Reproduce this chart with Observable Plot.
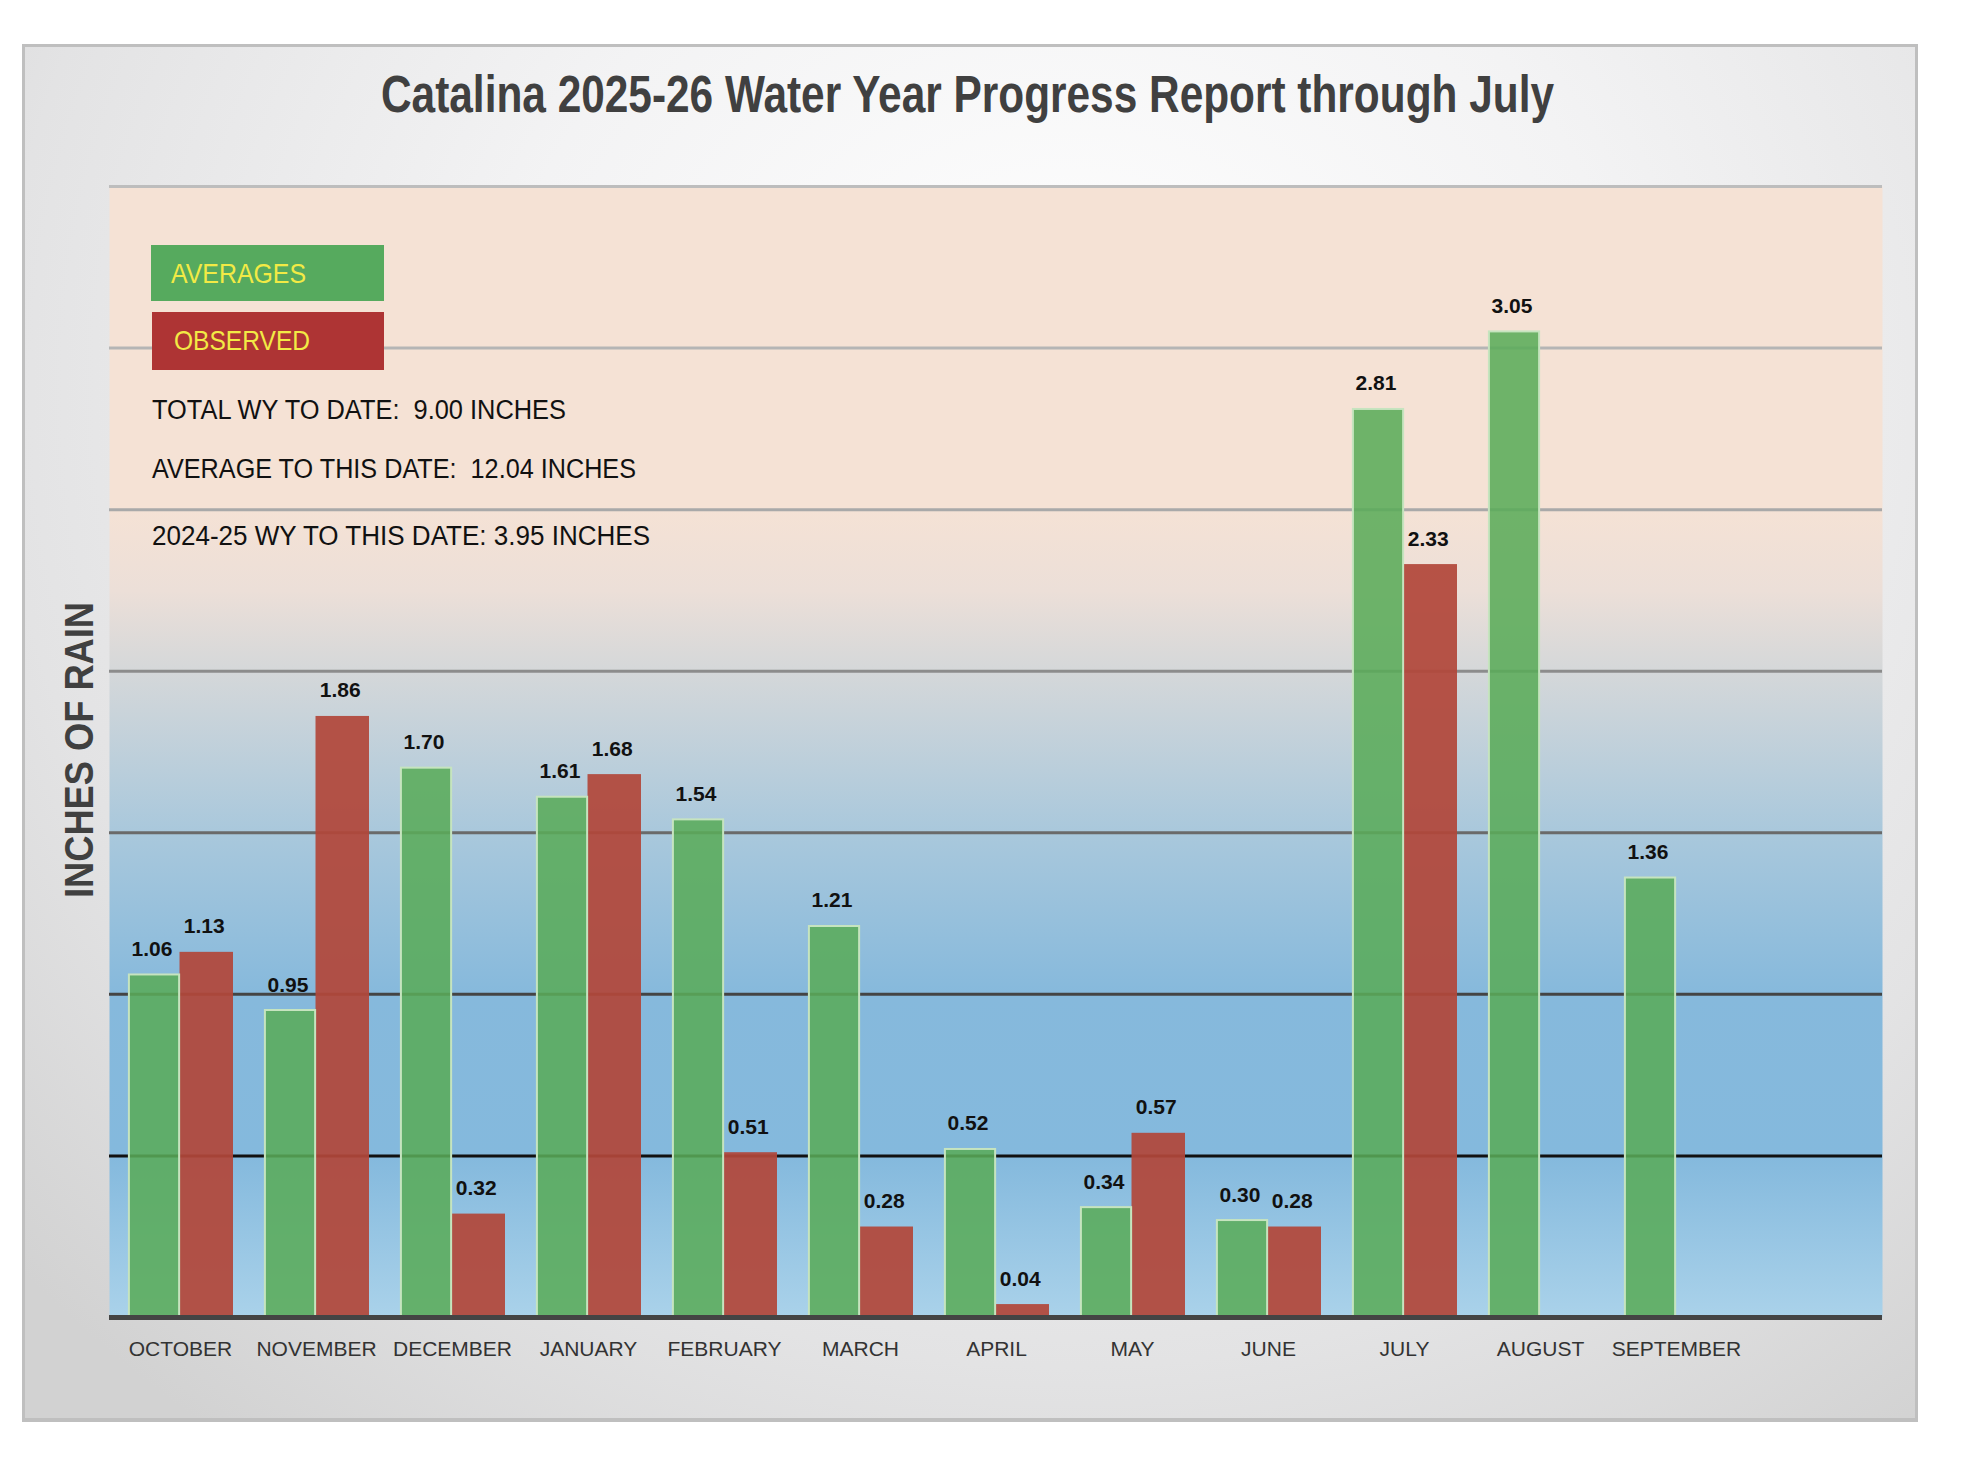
<!DOCTYPE html>
<html>
<head>
<meta charset="utf-8">
<script src="https://cdn.jsdelivr.net/npm/d3@7"></script>
<script src="https://cdn.jsdelivr.net/npm/@observablehq/plot@0.6"></script>
<style>
html, body { margin: 0; padding: 0; background: #ffffff; }
#page { position: relative; width: 1962px; height: 1477px; overflow: hidden; font-family: "Liberation Sans", Arial, sans-serif; }
#panel { position: absolute; left: 22px; top: 44px; width: 1896px; height: 1378px; box-sizing: border-box;
  border: 3px solid #bfbfbf; border-bottom-width: 4px;
  background: radial-gradient(ellipse 75% 95% at 55% 25%, #ffffff 0%, #f3f3f4 40%, #e3e3e4 75%, #d2d2d2 100%); }
#chart { position: absolute; left: 0; top: 140px; width: 1962px; }
#overlay { position: absolute; left: 0; top: 0; pointer-events: none; }
</style>
</head>
<body>
<div id="page">
  <div id="panel"></div>
  <div id="chart"></div>
  <svg id="overlay" width="1962" height="1477"></svg>
</div>
<script>
// ---------- data ----------
const months = ["OCTOBER", "NOVEMBER", "DECEMBER", "JANUARY", "FEBRUARY", "MARCH",
                "APRIL", "MAY", "JUNE", "JULY", "AUGUST", "SEPTEMBER"];
const averages = [1.06, 0.95, 1.70, 1.61, 1.54, 1.21, 0.52, 0.34, 0.30, 2.81, 3.05, 1.36];
const observed = [1.13, 1.86, 0.32, 1.68, 0.51, 0.28, 0.04, 0.57, 0.28, 2.33, null, null];
const gridTicks = [0.5, 1, 1.5, 2, 2.5, 3, 3.5];
const yMax = 3.5;
const titleText = "Catalina 2025-26 Water Year Progress Report through July";
const yLabel = "INCHES OF RAIN";
const seriesNames = ["AVERAGES", "OBSERVED"];
const statLines = [
  "TOTAL WY TO DATE:  9.00 INCHES",
  "AVERAGE TO THIS DATE:  12.04 INCHES",
  "2024-25 WY TO THIS DATE: 3.95 INCHES"
];

// ---------- layout / style ----------
const W = 1962, H = 1300, ML = 109, MR = 80, MT = 46, MB = 123;
const xDomain = [...months, ""];          // one empty slot at the right, as in the original
const band = (W - ML - MR) / xDomain.length;
const GREEN = "#5aab58", RED = "#b2473a";
const gInL = 0.124 * band, gInR = band - 0.495 * band;
const rInL = 0.495 * band, rInR = band - 0.890 * band;
const gDx = (0.3095 - 0.5) * band - 2.5, rDx = (0.6925 - 0.5) * band - 2.5;

const avgData = months.map((m, i) => ({month: m, value: averages[i]}));
const obsData = months.map((m, i) => ({month: m, value: observed[i]})).filter(d => d.value != null);

const gridColor = d3.scaleLinear()
  .domain([0.5, 1, 1.5, 2, 2.5, 3, 3.5])
  .range(["#111111", "#444444", "#6a6a6a", "#8c8c8c", "#a9a9a9", "#b5b5b5", "#bdbdbd"]);

const chart = Plot.plot({
  width: W, height: H,
  marginLeft: ML, marginRight: MR, marginTop: MT, marginBottom: MB,
  style: {background: "transparent", fontFamily: "'Liberation Sans', Arial, sans-serif", color: "#333"},
  x: {domain: xDomain, padding: 0},
  y: {domain: [0, yMax], axis: null},
  marks: [
    Plot.frame({fill: "url(#plotBg)", stroke: "none"}),
    Plot.ruleY(gridTicks, {stroke: d => gridColor(d), strokeWidth: 3}),
    Plot.barY(obsData, {x: "month", y: "value", fill: RED, fillOpacity: 0.93,
      insetLeft: rInL, insetRight: rInR}),
    Plot.barY(avgData, {x: "month", y: "value", fill: GREEN, fillOpacity: 0.87,
      stroke: "#c6e4bf", strokeWidth: 2, insetLeft: gInL, insetRight: gInR}),
    Plot.ruleY([0], {stroke: "#444444", strokeWidth: 5}),
    Plot.text(avgData, {x: "month", y: "value", text: d => d.value.toFixed(2),
      dx: gDx, dy: -19, lineAnchor: "bottom", fontSize: 21, fontWeight: "bold", fill: "#111"}),
    Plot.text(obsData, {x: "month", y: "value", text: d => d.value.toFixed(2),
      dx: rDx, dy: -19, lineAnchor: "bottom", fontSize: 21, fontWeight: "bold", fill: "#111"}),
    Plot.axisX({tickSize: 0, tickPadding: 24, fontSize: 21, color: "#333", label: null,
      tickFormat: d => d})
  ]
});
document.getElementById("chart").appendChild(chart);

// gradient for plot background, stops placed with the y scale
const ys = chart.scale("y");
const yTop = ys.apply(yMax), yBot = ys.apply(0);
const off = v => (ys.apply(v) - yTop) / (yBot - yTop);
const bgStops = [[3.5, "#f5e2d5"], [2.5, "#f5e2d5"], [2.25, "#ecdfd8"], [2.05, "#d9d9d9"],
                 [1.5, "#a9c8dc"], [1.0, "#86b9dc"], [0.5, "#84b9dd"], [0, "#aad2ea"]];
const defs = d3.select(chart).insert("defs", ":first-child");
const lg = defs.append("linearGradient").attr("id", "plotBg")
  .attr("x1", 0).attr("y1", 0).attr("x2", 0).attr("y2", 1);
bgStops.forEach(([v, c]) => lg.append("stop").attr("offset", off(v)).attr("stop-color", c));

// ---------- overlay texts: title, axis label, legend, notes ----------
const ov = d3.select("#overlay");
const font = "'Liberation Sans', Arial, sans-serif";
ov.append("text").attr("x", 381).attr("y", 112)
  .attr("textLength", 1173).attr("lengthAdjust", "spacingAndGlyphs")
  .attr("font-family", font).attr("font-size", 51).attr("font-weight", "bold")
  .attr("fill", "#404040").text(titleText);

ov.append("text").attr("transform", "translate(93,750) rotate(-90)")
  .attr("text-anchor", "middle").attr("textLength", 296).attr("lengthAdjust", "spacingAndGlyphs")
  .attr("font-family", font).attr("font-size", 41).attr("font-weight", "bold")
  .attr("fill", "#404040").text(yLabel);

const legendColors = ["#56aa5e", "#ae3434"];
const legendBoxes = [[151, 245, 233, 56], [152, 312, 232, 58]];
const legendText = [[171, 283, 135], [174, 350, 136]];
seriesNames.forEach((name, i) => {
  const [x, y, w, h] = legendBoxes[i];
  ov.append("rect").attr("x", x).attr("y", y).attr("width", w).attr("height", h).attr("fill", legendColors[i]);
  const [tx, ty, tl] = legendText[i];
  ov.append("text").attr("x", tx).attr("y", ty).attr("textLength", tl).attr("lengthAdjust", "spacingAndGlyphs")
    .attr("font-family", font).attr("font-size", 28).attr("fill", "#f2ea45").text(name);
});

const statPos = [[419, 414], [478, 484], [545, 498]];
statLines.forEach((s, i) => {
  ov.append("text").attr("x", 152).attr("y", statPos[i][0])
    .attr("textLength", statPos[i][1]).attr("lengthAdjust", "spacingAndGlyphs")
    .attr("font-family", font).attr("font-size", 27).attr("fill", "#111")
    .style("white-space", "pre").text(s);
});
</script>
</body>
</html>
